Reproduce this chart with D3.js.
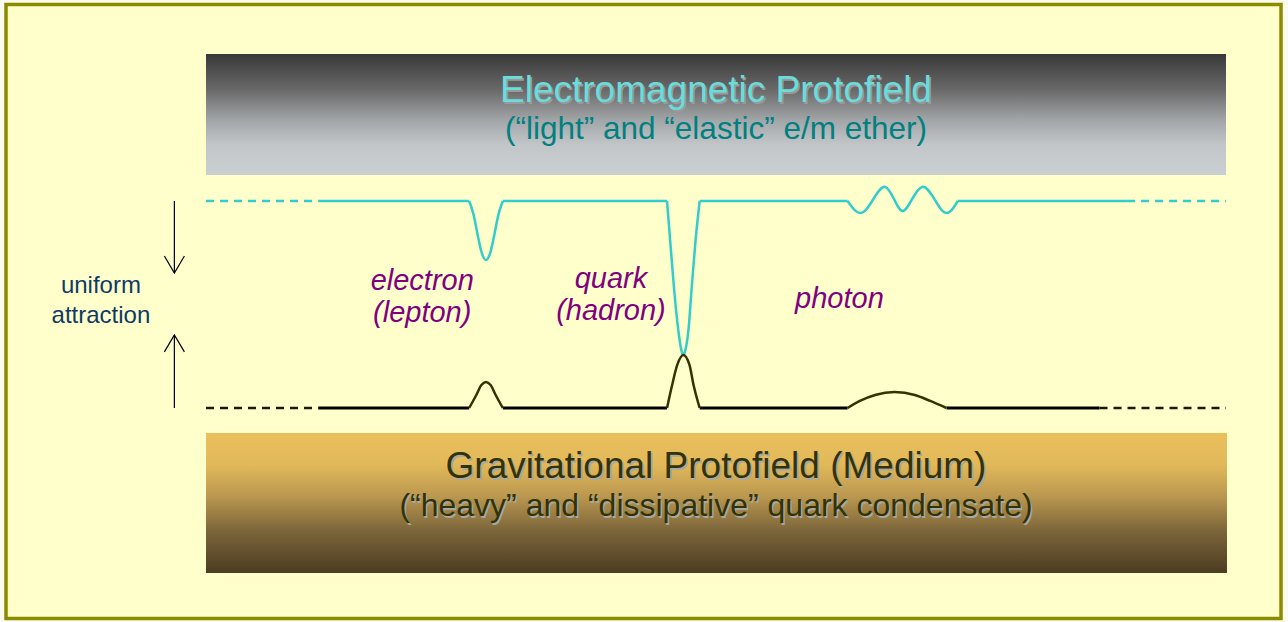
<!DOCTYPE html>
<html>
<head>
<meta charset="utf-8">
<script src="https://cdn.jsdelivr.net/npm/d3@7"></script>
<style>
  html, body { margin: 0; padding: 0; background: #fbfbee; }
  svg { display: block; }
  text { font-family: "Liberation Sans", Arial, sans-serif; }
</style>
</head>
<body>
<div id="chart"></div>
<script>
// positions along the field (0..100) and depth between the two fields (0 = e/m, 100 = gravity)
const emLeftDash = [0, 11.0];
const emSolid = [11.0, 90.3];
const emRightDash = [90.3, 100];
const grLeftDash = [0, 11.0];
const grSolid = [11.0, 87.6];
const grRightDash = [87.6, 100];

const electronDip = [[25.8, 0], [26.2, 6], [26.7, 18], [27.0, 24.5], [27.45, 28.5], [27.9, 24.5], [28.2, 18], [28.7, 6], [29.1, 0]];
const quarkDip = [[45.2, 0], [45.5, 18.8], [45.9, 43], [46.3, 62.3], [46.6, 72], [46.8, 74.4], [47.0, 72], [47.3, 62.3], [47.6, 43], [48.0, 18.8], [48.4, 0]];
const photonWave = [[62.9, 0], [64.6, 4.8], [66.6, -6.8], [68.3, 4.8], [70.2, -6.8], [72.2, 4.8], [73.7, 0]];

const electronBump = [[25.8, 100], [26.5, 93.7], [27.0, 88.9], [27.45, 87.4], [27.9, 88.9], [28.4, 93.7], [29.1, 100]];
const quarkBump = [[45.2, 100], [45.7, 88.9], [46.2, 79.2], [46.8, 74.4], [47.4, 79.2], [47.8, 88.9], [48.4, 100]];
const photonBump = [[62.9, 100], [64.1, 96.6], [65.6, 93.7], [67.5, 92.3], [69.5, 93.7], [71.0, 96.6], [72.6, 100]];

const particleLabels = [
    {lines: ["electron", "(lepton)"], pos: 21.2, depth: 43},
    {lines: ["quark", "(hadron)"], pos: 39.7, depth: 42},
    {lines: ["photon"], pos: 62.1, depth: 51.7},
];
const sideLabel = {lines: ["uniform", "attraction"], pos: -10.3, depth: 44.4};
const arrows = [
    {pos: -3.1, from: 0, to: 34.8},
    {pos: -3.1, from: 100, to: 64.7},
];
const emTitle = "Electromagnetic Protofield";
const emSub = "(\u201clight\u201d and \u201celastic\u201d e/m ether)";
const grTitle = "Gravitational Protofield (Medium)";
const grSub = "(\u201cheavy\u201d and \u201cdissipative\u201d quark condensate)";

const W = 1288, H = 622;
const svg = d3.select("#chart").append("svg")
    .attr("width", W)
    .attr("height", H);

const defs = svg.append("defs");
const gTop = defs.append("linearGradient").attr("id", "gTop")
    .attr("x1", 0).attr("y1", 0).attr("x2", 0).attr("y2", 1);
[[0, "#383838"], [0.3, "#6a6a6a"], [0.55, "#a3a6a8"], [0.75, "#c2c6c9"], [1, "#cacfd2"]]
    .forEach(([o, c]) => gTop.append("stop").attr("offset", o).attr("stop-color", c));
const gBot = defs.append("linearGradient").attr("id", "gBot")
    .attr("x1", 0).attr("y1", 0).attr("x2", 0).attr("y2", 1);
[[0, "#eac05c"], [0.22, "#e2b95a"], [0.45, "#bb9850"], [0.7, "#7b653a"], [1, "#4c3c21"]]
    .forEach(([o, c]) => gBot.append("stop").attr("offset", o).attr("stop-color", c));

// frame
svg.append("rect")
    .attr("x", 6).attr("y", 4.5)
    .attr("width", 1275).attr("height", 614)
    .attr("fill", "#ffffcc")
    .attr("stroke", "#8b8b00")
    .attr("stroke-width", 3.5);

const x = d3.scaleLinear().domain([0, 100]).range([206, 1226]);
const y = d3.scaleLinear().domain([0, 100]).range([201, 408]);

// field boxes
svg.append("rect").attr("x", 206).attr("y", 54).attr("width", 1020).attr("height", 121)
    .attr("fill", "url(#gTop)");
svg.append("rect").attr("x", 206).attr("y", 433).attr("width", 1021).attr("height", 140)
    .attr("fill", "url(#gBot)");

const shadowText = (t, cx, by, size, color, shadow) => {
    if (shadow) {
        svg.append("text").attr("x", cx + 1.5).attr("y", by + 1.5)
            .attr("text-anchor", "middle").attr("font-size", size)
            .attr("fill", shadow).text(t);
    }
    svg.append("text").attr("x", cx).attr("y", by)
        .attr("text-anchor", "middle").attr("font-size", size)
        .attr("fill", color).text(t);
};
const cx = x(50);
shadowText(emTitle, cx, 102, 37, "#6adcdc", "#9a9a9a");
shadowText(emSub, cx, 139, 31.5, "#008080", null);
shadowText(grTitle, cx, 478, 37, "#333300", "#a8a8a8");
shadowText(grSub, cx, 516, 32, "#333300", "#a8a8a8");

// field lines
const line = d3.line()
    .x((d) => x(d[0]))
    .y((d) => y(d[1]))
    .curve(d3.curveMonotoneX);
const waveLine = d3.line()
    .x((d) => x(d[0]))
    .y((d) => y(d[1]))
    .curve(d3.curveNatural);

const flat = (a, b, depth) => [[a, depth], [b, depth]];

const drawDash = (seg, depth, color) => {
    svg.append("path")
        .datum(flat(seg[0], seg[1], depth))
        .attr("d", d3.line().x((d) => x(d[0])).y((d) => y(d[1])))
        .attr("fill", "none")
        .attr("stroke", color)
        .attr("stroke-width", 2.5)
        .attr("stroke-dasharray", "8,6");
};
drawDash(emLeftDash, 0, "#33cccc");
drawDash(emRightDash, 0, "#33cccc");
drawDash(grLeftDash, 100, "#1a1a00");
drawDash(grRightDash, 100, "#1a1a00");

// split the solid path into flat runs and curved shapes so the kinks stay sharp
const drawField = (pieces, color, width, gen) => {
    pieces.forEach((p) => {
        svg.append("path")
            .datum(p)
            .attr("d", gen || line)
            .attr("fill", "none")
            .attr("stroke", color)
            .attr("stroke-width", width)
            .attr("stroke-linejoin", "round");
    });
};
const last = (a) => a[a.length - 1];
drawField([
    [[emSolid[0], 0], electronDip[0]],
    electronDip,
    [last(electronDip), quarkDip[0]],
    quarkDip,
    [last(quarkDip), photonWave[0]],
    [last(photonWave), [emSolid[1], 0]],
], "#33cccc", 2.5);
drawField([photonWave], "#33cccc", 2.5, waveLine);
drawField([
    [[grSolid[0], 100], electronBump[0]],
    [last(electronBump), quarkBump[0]],
    [last(quarkBump), photonBump[0]],
    [last(photonBump), [grSolid[1], 100]],
], "#000000", 2.8);
drawField([electronBump, quarkBump, photonBump], "#333300", 2.5);

// labels
particleLabels.forEach((l) => {
    l.lines.forEach((t, i) => {
        svg.append("text")
            .attr("x", x(l.pos))
            .attr("y", y(l.depth) + i * 32)
            .attr("text-anchor", "middle")
            .attr("font-size", 29)
            .attr("font-style", "italic")
            .attr("fill", "#800080")
            .text(t);
    });
});
sideLabel.lines.forEach((t, i) => {
    svg.append("text")
        .attr("x", x(sideLabel.pos))
        .attr("y", y(sideLabel.depth) + i * 30)
        .attr("text-anchor", "middle")
        .attr("font-size", 24)
        .attr("fill", "#0f3a66")
        .text(t);
});

// arrows
arrows.forEach((a) => {
    const ax = x(a.pos), y0 = y(a.from), y1 = y(a.to);
    const dir = y1 > y0 ? 1 : -1;
    svg.append("line")
        .attr("x1", ax).attr("y1", y0).attr("x2", ax).attr("y2", y1)
        .attr("stroke", "#000").attr("stroke-width", 1.2);
    svg.append("path")
        .attr("d", `M${ax - 10},${y1 - dir * 17}L${ax},${y1}L${ax + 10},${y1 - dir * 17}`)
        .attr("fill", "none").attr("stroke", "#000").attr("stroke-width", 1.2);
});
</script>
</body>
</html>
